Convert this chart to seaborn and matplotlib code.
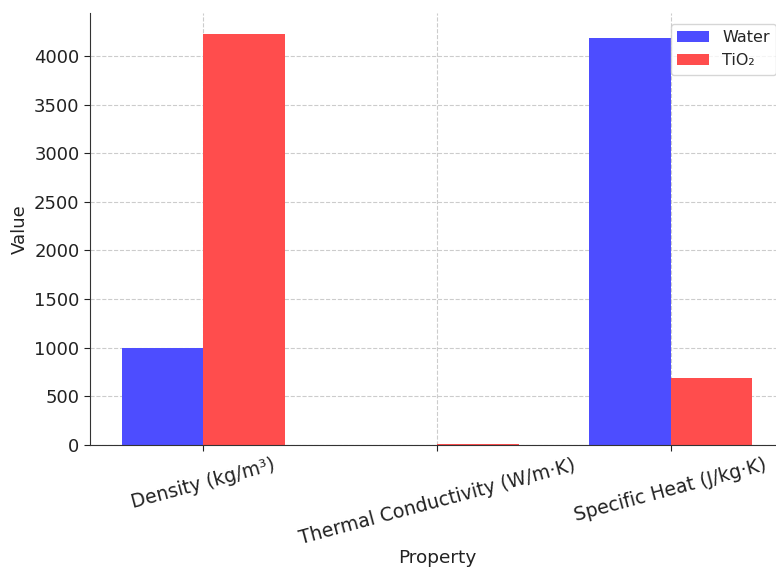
import pandas as pd
import seaborn as sns
import matplotlib.pyplot as plt

# Values
properties = ['Density (kg/m³)', 'Thermal Conductivity (W/m·K)', 'Specific Heat (J/kg·K)']
water = [997, 0.6, 4182]
tio2 = [4230, 8.4, 692]

df = pd.DataFrame({
    'Property': properties * 2,
    'Value': water + tio2,
    'Material': ['Water'] * 3 + ['TiO₂'] * 3,
})

sns.set_style('white')
plt.rcParams['font.family'] = ['DejaVu Sans']

fig = plt.figure(figsize=(7.76, 5.67), dpi=100)
# axes run slightly past the right edge, like the cropped original
ax = fig.add_axes([0.116, 0.2152, 0.8943, 0.7619])

sns.barplot(data=df, x='Property', y='Value', hue='Material',
            palette=['#4d4dff', '#ff4d4d'], width=0.7, gap=0,
            saturation=1, errorbar=None, linewidth=0, ax=ax)

ax.set_xlim(-0.485, 2.485)
ax.set_ylim(0, 4441)
ax.grid(True, linestyle='--', color='#cccccc', linewidth=0.8)
ax.set_axisbelow(True)
for s in ['top', 'right']:
    ax.spines[s].set_visible(False)
for s in ['left', 'bottom']:
    ax.spines[s].set_color('#333333')

ax.tick_params(axis='both', length=4, colors='#222222', left=True, bottom=True)
ax.tick_params(axis='y', labelsize=13)
ax.tick_params(axis='x', labelsize=13.6)
plt.setp(ax.get_xticklabels(), rotation=15)
ax.set_xlabel('Property', fontsize=13.3, color='#222222', labelpad=1)
ax.set_ylabel('Value', fontsize=13, color='#222222')
ax.legend(loc='upper right', fontsize=11.5, title=None, handlelength=2.0,
          bbox_to_anchor=(1, 0.993))

fig.savefig('out.png', dpi=100)
